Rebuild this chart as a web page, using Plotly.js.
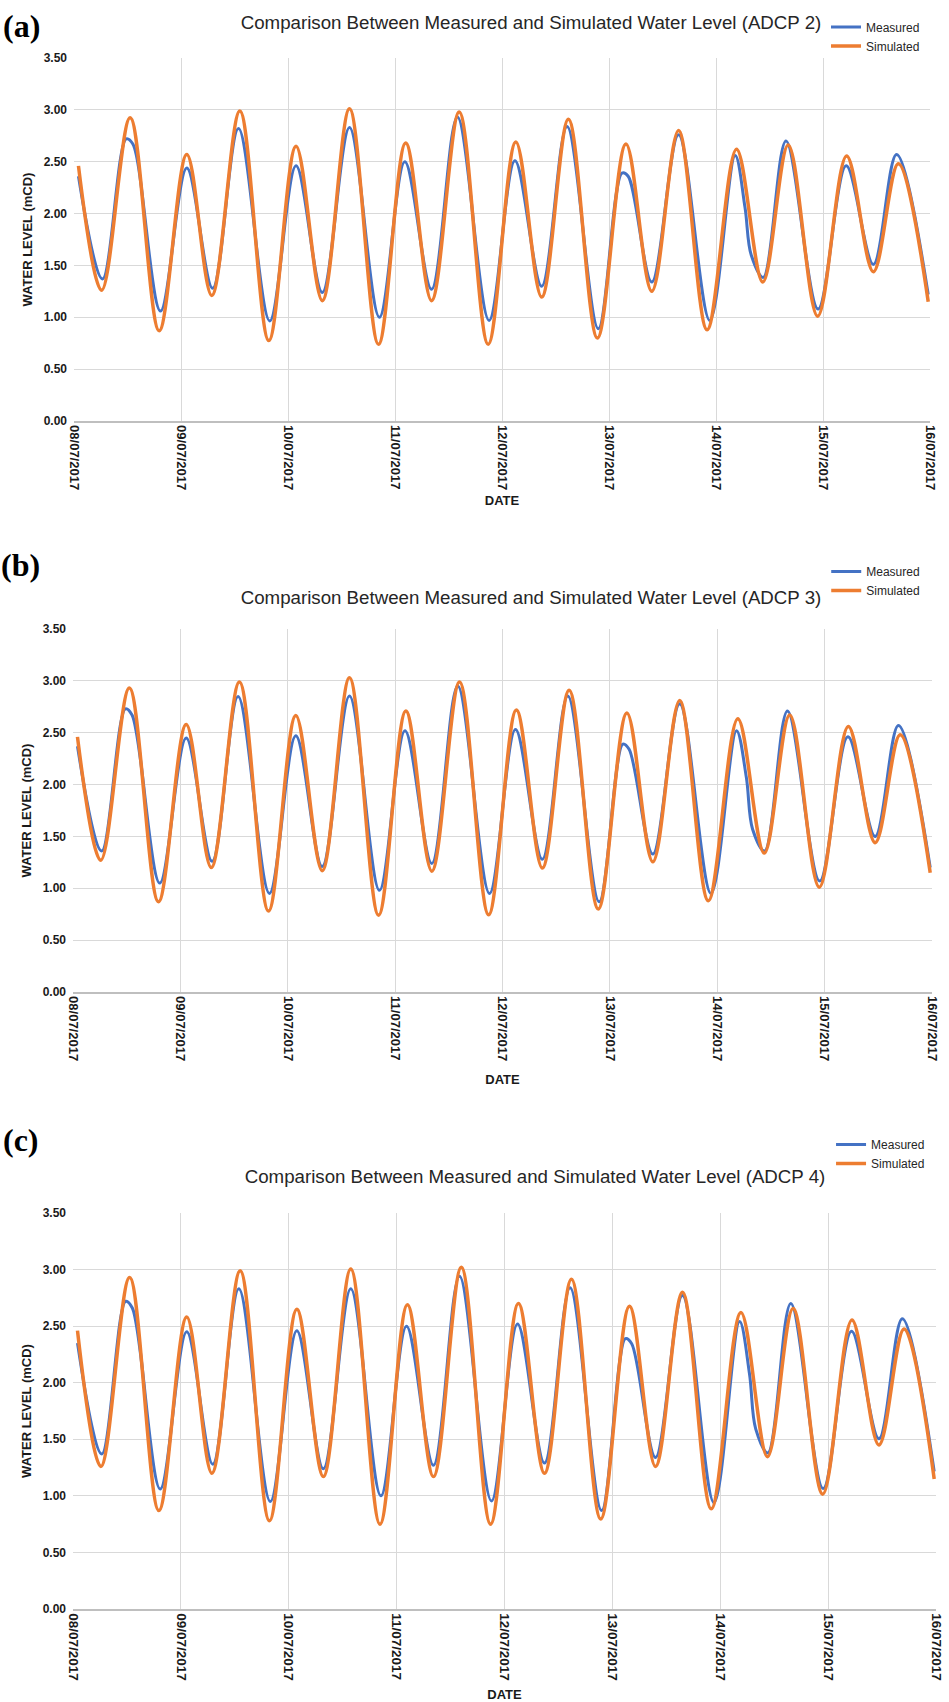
<!DOCTYPE html>
<html><head><meta charset="utf-8">
<script src="https://cdn.plot.ly/plotly-3.0.1.min.js"></script>
<style>
body{margin:0;background:#fff;width:949px;height:1702px;position:relative;overflow:hidden}
.p{position:absolute;left:0;width:949px}
</style></head>
<body>
<div id="pa" class="p" style="top:0;height:530px"></div>
<div id="pb" class="p" style="top:530px;height:570px"></div>
<div id="pc" class="p" style="top:1100px;height:602px"></div>
<script>
// ---- DATA (hours after 08/07/2017 00:00, water level in mCD) ----
const simHours = [1.0, 6.2, 12.6, 19.1, 25.3, 30.9, 37.2, 43.7, 49.8, 55.7, 61.8, 68.3, 74.4, 80.2, 86.4, 92.9,
  99.1, 104.9, 110.9, 117.4, 123.8, 129.6, 135.6, 142.0, 148.6, 154.5, 160.2, 166.8, 173.3, 179.3, 184.9, 191.6];
const measHours = [1.0, 6.4, 11.7, 13.2, 19.4, 25.3, 31.1, 36.9, 43.9, 49.8, 55.7, 61.8, 68.5, 74.2, 80.2, 86.0,
  93.1, 98.9, 104.9, 110.6, 117.6, 122.9, 124.3, 129.6, 135.6, 142.6, 148.3, 150.5, 151.9, 154.6, 159.7, 166.9,
  173.2, 179.3, 184.5, 191.6];

const simulatedADCP2 = [2.46,1.26,2.925,0.87,2.57,1.21,2.99,0.775,2.65,1.16,3.01,0.74,2.68,1.16,2.98,0.74,
  2.69,1.195,2.91,0.80,2.67,1.25,2.80,0.88,2.62,1.34,2.66,1.01,2.555,1.44,2.48,1.15];
const measuredADCP2 = [2.36,1.37,2.72,2.67,1.06,2.44,1.28,2.82,0.965,2.46,1.24,2.83,1.00,2.50,1.27,2.93,
  0.97,2.51,1.30,2.84,0.89,2.39,2.36,1.34,2.76,0.97,2.56,2.06,1.60,1.385,2.70,1.08,2.46,1.51,2.57,1.22];

const simulatedADCP3 = [2.46,1.27,2.93,0.87,2.58,1.20,2.99,0.78,2.665,1.17,3.03,0.74,2.71,1.165,2.99,0.745,
  2.72,1.195,2.91,0.80,2.69,1.255,2.81,0.88,2.635,1.34,2.67,1.01,2.56,1.44,2.48,1.15];
const measuredADCP3 = [2.37,1.36,2.73,2.67,1.05,2.45,1.26,2.85,0.95,2.47,1.21,2.855,0.98,2.52,1.24,2.95,
  0.95,2.53,1.28,2.855,0.87,2.39,2.34,1.33,2.78,0.95,2.52,2.07,1.57,1.36,2.71,1.07,2.46,1.50,2.57,1.20];

const simulatedADCP4 = [2.46,1.26,2.93,0.87,2.58,1.20,2.99,0.78,2.65,1.17,3.005,0.75,2.69,1.17,3.02,0.75,
  2.70,1.20,2.915,0.795,2.675,1.26,2.80,0.885,2.62,1.345,2.655,1.015,2.555,1.45,2.475,1.15];
const measuredADCP4 = [2.35,1.37,2.72,2.66,1.06,2.45,1.28,2.83,0.95,2.46,1.24,2.83,1.00,2.50,1.27,2.94,
  0.955,2.52,1.29,2.84,0.87,2.39,2.345,1.34,2.77,0.94,2.54,2.08,1.59,1.38,2.70,1.065,2.455,1.505,2.565,1.215];

const panelLabels = ['(a)', '(b)', '(c)'];
const panelTitles = [
  'Comparison Between Measured and Simulated Water Level (ADCP 2)',
  'Comparison Between Measured and Simulated Water Level (ADCP 3)',
  'Comparison Between Measured and Simulated Water Level (ADCP 4)'
];
const seriesNames = ['Measured', 'Simulated'];
const xStart = '2017-07-08 00:00:00';
const xEnd = '2017-07-16 00:00:00';
const yTickVals = [0, 0.5, 1, 1.5, 2, 2.5, 3, 3.5];

// ---- helpers ----
function hoursToDate(h) {
  const d = new Date(Date.UTC(2017, 6, 8) + h * 3600000);
  return d.toISOString().replace('T', ' ').slice(0, 19);
}

// layout geometry (px, relative to each panel div)
const geo = [
  {id:'pa', h:530, top:52.3, bottom:421, left:74, right:930, titleY:22, legTop:6, legX:826, labelY:20, titleX:531, dateStand:6, tick:13},
  {id:'pb', h:570, top:99, bottom:462, left:73.3, right:931.7, titleY:67, legTop:27, legX:826, labelY:35, titleX:531, dateStand:14, tick:13},
  {id:'pc', h:602, top:113, bottom:509, left:72.7, right:936, titleY:76, legTop:30, legX:831, labelY:40, titleX:535, dateStand:12, tick:13.5}
];
const measSets = [measuredADCP2, measuredADCP3, measuredADCP4];
const simSets = [simulatedADCP2, simulatedADCP3, simulatedADCP4];

const FONT = 'Liberation Sans, Arial, sans-serif';
const NARROW = 'Liberation Sans Narrow, Liberation Sans, Arial, sans-serif';

geo.forEach((g, i) => {
  const plotH = g.bottom - g.top;
  const plotW = g.right - g.left;
  const traces = [
    {x: measHours.map(hoursToDate), y: measSets[i], name: seriesNames[0], type: 'scatter', mode: 'lines',
     line: {color: '#4472C4', width: 3, shape: 'spline', smoothing: 1}},
    {x: simHours.map(hoursToDate), y: simSets[i], name: seriesNames[1], type: 'scatter', mode: 'lines',
     line: {color: '#ED7D31', width: 3.5, shape: 'spline', smoothing: 1}}
  ];
  const layout = {
    width: 949, height: g.h,
    margin: {l: g.left, r: 949 - g.right, t: g.top, b: g.h - g.bottom, pad: 0},
    paper_bgcolor: '#fff', plot_bgcolor: '#fff',
    showlegend: true,
    legend: {x: (g.legX - g.left) / plotW, xanchor: 'left', y: (g.bottom - g.legTop) / plotH, yanchor: 'top',
             font: {family: NARROW, size: 12, color: '#262626'}, bgcolor: 'rgba(0,0,0,0)',
             tracegroupgap: 0, itemwidth: 30},
    title: {text: panelTitles[i], font: {family: FONT, size: 18.7, color: '#262626'},
            xref: 'container', x: g.titleX / 949, xanchor: 'center',
            yref: 'container', y: 1 - g.titleY / g.h, yanchor: 'middle'},
    xaxis: {type: 'date', range: [xStart, xEnd], dtick: 86400000, tick0: xStart,
            tickformat: '%d/%m/%Y', tickangle: 90,
            tickfont: {family: FONT, size: g.tick, color: '#1a1a1a', weight: 'bold'},
            showgrid: true, gridcolor: '#d9d9d9', gridwidth: 1,
            showline: true, linecolor: '#bfbfbf', linewidth: 1.5, ticks: '', zeroline: false,
            title: {text: '<b>DATE</b>', font: {family: NARROW, size: 13, color: '#1a1a1a'}, standoff: g.dateStand}},
    yaxis: {range: [0, 3.5], tickvals: yTickVals, tickformat: '.2f',
            tickfont: {family: NARROW, size: 12, color: '#1a1a1a', weight: 'bold'},
            showgrid: true, gridcolor: '#d9d9d9', gridwidth: 1, zeroline: false, showline: false, ticks: '',
            ticklabelstandoff: 6,
            title: {text: '<b>WATER LEVEL (mCD)</b>', font: {family: FONT, size: 13, color: '#1a1a1a'}, standoff: 8}},
    annotations: [
      {text: '<b>' + panelLabels[i] + '</b>', xref: 'paper', yref: 'paper', showarrow: false,
       x: (21 - g.left) / plotW, y: (g.bottom - g.labelY) / plotH, xanchor: 'center', yanchor: 'middle',
       font: {family: 'Liberation Serif, Times New Roman, serif', size: 32, color: '#000'}}
    ]
  };
  Plotly.newPlot(g.id, traces, layout, {staticPlot: true, displayModeBar: false});
});
</script>
</body></html>
